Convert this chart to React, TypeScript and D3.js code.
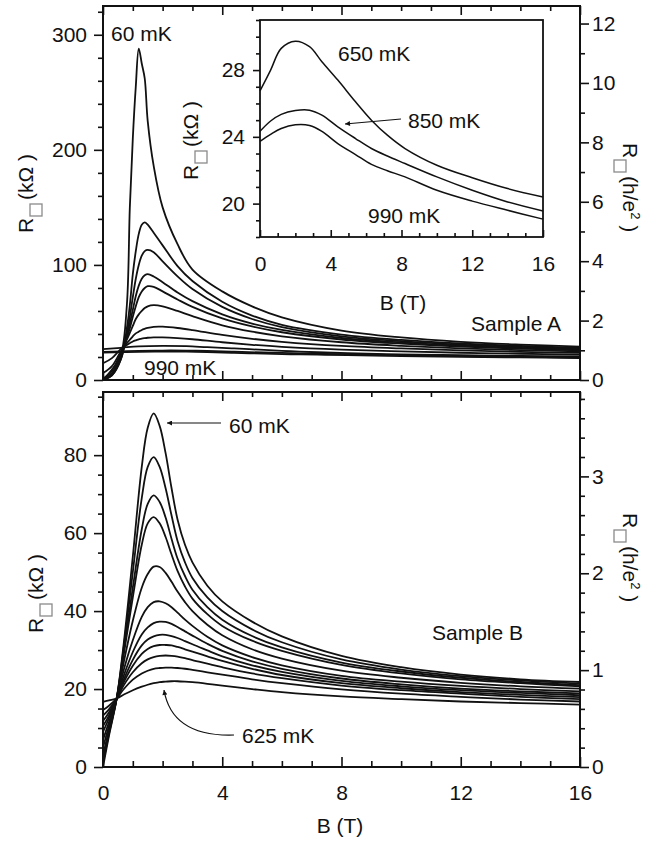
import React, { useEffect, useRef } from "react";
import * as d3 from "d3";

const FONT = "'Liberation Sans', Arial, Helvetica, sans-serif";

// conversion kOhm -> h/e^2 as drawn on the right axes
const HE2_A = 25.813;
const HE2_B = 24.85;

// ---- Sample A (top panel), R in kOhm vs B in T
const bFieldA = [0, 0.3, 0.6, 0.8, 0.9, 1.0, 1.1, 1.2, 1.3, 1.4, 1.5, 1.7, 2.0, 2.5, 3, 4, 5, 6, 8, 10, 12, 14, 16];
const rA_060 = [0, 9, 22, 65, 150, 210, 255, 288, 275, 262, 225, 186, 150, 118, 96, 77, 64, 54.5, 43, 37, 33.2, 30.8, 29];
const rA_2 = [0, 4, 18, 45, 65, 92, 112, 127, 135, 137, 135, 128, 117, 99, 86, 68, 56, 48, 39.5, 34.8, 31.7, 29.6, 28];
const rA_3 = [0, 4, 18, 40, 55, 72, 88, 100, 108, 112, 113, 111, 103, 90, 79, 63.5, 53, 46, 38, 33.8, 30.8, 28.8, 27.2];
const rA_4 = [0, 5, 20, 38, 49, 61, 73, 82, 88, 91, 92, 90, 85, 76, 68.5, 57, 49, 43.5, 36.5, 32.6, 29.8, 27.9, 26.4];
const rA_5 = [0.5, 6, 22, 37, 45, 55, 64, 72, 77, 80, 81.5, 81, 77, 70, 63.5, 53.5, 46.5, 41.5, 35.2, 31.6, 29, 27.2, 25.8];
const rA_6 = [1, 8, 24, 35, 41, 47, 53, 57, 60, 62.5, 64, 65, 64, 60, 55.5, 47.5, 42, 38, 32.8, 29.7, 27.5, 26, 24.8];
const rA_7 = [6, 12, 25, 32, 35, 38, 40.5, 42, 43.5, 44.5, 45.3, 46.2, 46.3, 45.2, 43.4, 39.2, 35.8, 33.2, 29.6, 27.4, 25.8, 24.5, 23.5];
const rA_8 = [14.5, 19, 27, 30.5, 32, 33.5, 34.5, 35.3, 36, 36.4, 36.7, 37, 37, 36.4, 35.4, 32.8, 30.6, 28.8, 26.4, 24.9, 23.7, 22.8, 22];

// high temperature traces of sample A (also shown in the inset)
const bFieldInset = [0, 0.6, 1.2, 2, 2.8, 3.5, 4.4, 5.4, 6.3, 7.2, 8.2, 10, 12, 14, 16];
const rA_650 = [26.75, 28.0, 29.3, 29.73, 29.4, 28.5, 27.4, 26.1, 25.0, 24.1, 23.3, 22.3, 21.55, 20.9, 20.4];
const rA_850 = [24.33, 24.95, 25.35, 25.58, 25.6, 25.3, 24.6, 23.9, 23.3, 22.85, 22.4, 21.6, 20.8, 20.1, 19.56];
const rA_990 = [23.73, 24.15, 24.5, 24.72, 24.68, 24.33, 23.6, 22.94, 22.35, 21.97, 21.6, 20.8, 20.15, 19.6, 19.07];

// ---- Sample B (bottom panel)
const bFieldB = [0, 0.2, 0.46, 0.7, 1.0, 1.3, 1.5, 1.7, 1.9, 2.1, 2.3, 2.5, 2.75, 3, 3.5, 4, 5, 6, 8, 10, 12, 14, 16];
const rB_060 = [0, 8, 17.6, 32, 54, 77, 87, 90.7, 87.5, 80.5, 71.5, 63.5, 57, 52.5, 46.5, 42.5, 37.3, 33.5, 28.5, 25.6, 23.7, 22.5, 21.8];
const rB_2 = [1, 8.5, 17.6, 31, 50, 69, 77, 79.5, 77, 71.5, 64.5, 58, 52.5, 48.5, 43.5, 40, 35.3, 32, 27.6, 25, 23.3, 22.2, 21.4];
const rB_3 = [2, 9, 17.6, 30, 46, 61, 67.5, 69.7, 68, 64, 58.5, 53.5, 49, 45.5, 41, 37.8, 33.6, 30.7, 26.8, 24.5, 22.9, 21.8, 21.0];
const rB_4 = [3, 9.5, 17.6, 29, 43.5, 57, 62.5, 64.1, 62.5, 59, 54.5, 50.3, 46.3, 43.2, 39.2, 36.2, 32.4, 29.8, 26.2, 24, 22.5, 21.5, 20.7];
const rB_5 = [5, 10.5, 17.6, 27, 37.5, 46, 49.5, 51.4, 51.3, 49.8, 47.5, 45, 42.3, 40, 36.5, 33.8, 30.2, 27.8, 24.7, 22.9, 21.6, 20.7, 20.1];
const rB_6 = [7, 11.5, 17.6, 25, 32.5, 38.5, 41, 42.3, 42.5, 42, 41, 39.6, 37.8, 36.2, 33.4, 31.2, 28.2, 26.1, 23.4, 21.9, 20.8, 20.0, 19.4];
const rB_7 = [9, 12.5, 17.6, 23.5, 29.5, 34, 35.8, 36.9, 37.3, 37.2, 36.7, 35.9, 34.8, 33.7, 31.6, 29.8, 27.1, 25.2, 22.7, 21.2, 20.1, 19.4, 18.9];
const rB_8 = [10.5, 13.2, 17.6, 22.5, 27.5, 31.2, 32.7, 33.5, 33.9, 33.9, 33.6, 33.1, 32.3, 31.5, 29.9, 28.4, 26.1, 24.4, 22.1, 20.7, 19.7, 19.0, 18.4];
const rB_9 = [11.8, 14, 17.6, 21.8, 26, 29, 30.3, 31, 31.3, 31.3, 31.2, 30.8, 30.2, 29.6, 28.4, 27.2, 25.2, 23.6, 21.5, 20.2, 19.2, 18.5, 17.9];
const rB_10 = [13.2, 14.8, 17.6, 21, 24.3, 26.6, 27.6, 28.2, 28.5, 28.6, 28.5, 28.3, 27.9, 27.4, 26.5, 25.6, 24.0, 22.8, 20.9, 19.7, 18.8, 18.0, 17.4];
const rB_11 = [14.6, 15.7, 17.6, 20, 22.4, 24, 24.7, 25.2, 25.4, 25.5, 25.5, 25.4, 25.2, 24.9, 24.3, 23.7, 22.5, 21.5, 19.9, 18.8, 18.0, 17.3, 16.8];
const rB_625 = [16.7, 17.1, 17.6, 18.6, 19.7, 20.6, 21.1, 21.5, 21.8, 21.9, 22.0, 22.0, 21.9, 21.75, 21.35, 20.9, 20.0, 19.2, 18.1, 17.4, 16.8, 16.4, 16.0];

const bTicks = [0, 4, 8, 12, 16];

const seriesA = [
  [bFieldA, rA_060], [bFieldA, rA_2], [bFieldA, rA_3], [bFieldA, rA_4], [bFieldA, rA_5],
  [bFieldA, rA_6], [bFieldA, rA_7], [bFieldA, rA_8],
  [bFieldInset, rA_650], [bFieldInset, rA_850], [bFieldInset, rA_990],
];
const seriesInset = [[bFieldInset, rA_650], [bFieldInset, rA_850], [bFieldInset, rA_990]];
const seriesB = [rB_060, rB_2, rB_3, rB_4, rB_5, rB_6, rB_7, rB_8, rB_9, rB_10, rB_11, rB_625].map(r => [bFieldB, r]);

// scales
const x = d3.scaleLinear().domain([0, 16]).range([103, 580]);
const yA = d3.scaleLinear().domain([0, 325]).range([380, 6]);
const yAr = d3.scaleLinear().domain([0, 325 / HE2_A]).range([380, 6]);
const yB = d3.scaleLinear().domain([0, 96.2]).range([767, 392]);
const yBr = d3.scaleLinear().domain([0, 96.2 / HE2_B]).range([767, 392]);
const xi = d3.scaleLinear().domain([0, 16]).range([260, 543]);
const yi = d3.scaleLinear().domain([18, 31]).range([237, 20]);

const minor = (from, to, step, major) =>
  d3.range(Math.round((to - from) / step) + 1).map(i => +(from + i * step).toFixed(3))
    .filter(v => !major.some(m => Math.abs(m - v) < 1e-6));

const mkLine = (xs, ys) => d3.line().x(d => xs(d[0])).y(d => ys(d[1])).curve(d3.curveCatmullRom.alpha(0.5));
const pts = (b, r) => b.map((v, i) => [v, r[i]]);

const App = () => {
  const ref = useRef(null);

  useEffect(() => {
    const svg = d3.select(ref.current).select("g.axes");
    svg.selectAll("*").remove();

    const put = (axis, tr, labels = false) => {
      const g = svg.append("g").attr("transform", tr).call(axis.tickFormat(d3.format("~g")));
      g.attr("font-family", FONT).attr("font-size", 21);
      g.select(".domain").remove();
      g.selectAll("line").attr("stroke", "#111").attr("stroke-width", 1.6);
      g.selectAll("text").attr("fill", "#111");
      if (!labels) g.selectAll("text").remove();
    };

    // top panel
    put(d3.axisLeft(yA).tickValues([0, 100, 200, 300]).tickSize(9).tickPadding(7), "translate(103,0)", true);
    put(d3.axisLeft(yA).tickValues(minor(0, 320, 20, [0, 100, 200, 300])).tickSize(5), "translate(103,0)");
    put(d3.axisRight(yAr).tickValues([0, 2, 4, 6, 8, 10, 12]).tickSize(9).tickPadding(3), "translate(580,0)", true);
    put(d3.axisRight(yAr).tickValues(minor(0, 12, 1, [0, 2, 4, 6, 8, 10, 12])).tickSize(5), "translate(580,0)");
    put(d3.axisTop(x).tickValues(bTicks).tickSize(-9), "translate(0,6)");
    put(d3.axisTop(x).tickValues(minor(0, 16, 1, bTicks)).tickSize(-5), "translate(0,6)");
    put(d3.axisBottom(x).tickValues(bTicks).tickSize(-9), "translate(0,380)");
    put(d3.axisBottom(x).tickValues(minor(0, 16, 1, bTicks)).tickSize(-5), "translate(0,380)");

    // bottom panel
    const yBmaj = [0, 20, 40, 60, 80];
    put(d3.axisLeft(yB).tickValues(yBmaj).tickSize(9).tickPadding(7), "translate(103,0)", true);
    put(d3.axisLeft(yB).tickValues(minor(0, 95, 5, yBmaj)).tickSize(5), "translate(103,0)");
    put(d3.axisRight(yBr).tickValues([0, 1, 2, 3]).tickSize(9).tickPadding(3), "translate(580,0)", true);
    put(d3.axisRight(yBr).tickValues(minor(0, 3.8, 0.2, [0, 1, 2, 3])).tickSize(5), "translate(580,0)");
    put(d3.axisTop(x).tickValues(bTicks).tickSize(-9), "translate(0,392)");
    put(d3.axisTop(x).tickValues(minor(0, 16, 1, bTicks)).tickSize(-5), "translate(0,392)");
    put(d3.axisBottom(x).tickValues(bTicks).tickSize(-10).tickPadding(18), "translate(0,767)", true);
    put(d3.axisBottom(x).tickValues(minor(0, 16, 1, bTicks)).tickSize(-6), "translate(0,767)");

    // inset
    put(d3.axisLeft(yi).tickValues([20, 24, 28]).tickSize(7).tickPadding(8), "translate(260,0)", true);
    put(d3.axisLeft(yi).tickValues(minor(18, 31, 1, [20, 24, 28])).tickSize(4), "translate(260,0)");
    put(d3.axisBottom(xi).tickValues(bTicks).tickSize(-7).tickPadding(19), "translate(0,237)", true);
    put(d3.axisBottom(xi).tickValues(minor(0, 16, 1, bTicks)).tickSize(-4), "translate(0,237)");
  }, []);

  const lineA = mkLine(x, yA);
  const lineB = mkLine(x, yB);
  const lineI = mkLine(xi, yi);

  const txt = { fontFamily: FONT, fontSize: 21, fill: "#111" };

  // rotated "R□ (unit)" label; (bx, by) = where the "R" begins
  const axisLabel = (bx, by, rot, unit) => (
    <g transform={`translate(${bx},${by}) rotate(${rot})`}>
      <text x={0} y={0} style={txt}>R</text>
      <rect x={17} y={-3} width={12} height={12} fill="none" stroke="#8a8a8a" strokeWidth={1.3} />
      <text x={33} y={0} style={txt}>{unit}</text>
    </g>
  );
  const he2 = <>(h/e<tspan dy={-8} fontSize={13}>2</tspan><tspan dy={8}> )</tspan></>;

  return (
    <svg ref={ref} width={660} height={841}
      style={{ position: "absolute", left: 0, top: 0, background: "#fff" }}>
      <defs>
        <marker id="ah" viewBox="0 0 10 10" refX="10" refY="5" markerWidth="9" markerHeight="5"
          markerUnits="userSpaceOnUse" orient="auto">
          <path d="M0,0 L10,5 L0,10 z" fill="#111" />
        </marker>
      </defs>

      {/* top panel curves */}
      <g fill="none" stroke="#111" strokeWidth={1.8}>
        {seriesA.map(([b, r], i) => <path key={i} d={lineA(pts(b, r))} />)}
      </g>
      {/* bottom panel curves */}
      <g fill="none" stroke="#111" strokeWidth={1.8}>
        {seriesB.map(([b, r], i) => <path key={i} d={lineB(pts(b, r))} />)}
      </g>

      {/* inset */}
      <rect x={260} y={20} width={283} height={217} fill="#fff" stroke="#111" strokeWidth={1.8} />
      <g fill="none" stroke="#111" strokeWidth={1.5}>
        {seriesInset.map(([b, r], i) => <path key={i} d={lineI(pts(b, r))} />)}
      </g>

      {/* frames */}
      <rect x={103} y={6} width={477} height={374} fill="none" stroke="#111" strokeWidth={2} />
      <rect x={103} y={392} width={477} height={375} fill="none" stroke="#111" strokeWidth={2} />

      <g className="axes" />

      {/* axis titles */}
      {axisLabel(33, 233, -90, "(kΩ )")}
      {axisLabel(43, 633, -90, "(kΩ )")}
      {axisLabel(198, 180, -90, "(kΩ )")}
      {axisLabel(623, 143, 90, he2)}
      {axisLabel(623, 513, 90, he2)}
      <text x={403} y={310} textAnchor="middle" style={txt}>B (T)</text>
      <text x={340} y={833} textAnchor="middle" style={txt}>B (T)</text>

      {/* annotations */}
      <text x={111} y={41} style={txt}>60 mK</text>
      <text x={144} y={375} style={txt}>990 mK</text>
      <text x={561} y={331} textAnchor="end" style={txt}>Sample A</text>
      <text x={338} y={61} style={txt}>650 mK</text>
      <text x={408} y={128} style={txt}>850 mK</text>
      <text x={368} y={223} style={txt}>990 mK</text>
      <line x1={401} y1={119} x2={345} y2={124} stroke="#111" strokeWidth={1.2} markerEnd="url(#ah)" />

      <text x={229} y={433} style={txt}>60 mK</text>
      <line x1={221} y1={423} x2={167} y2={423} stroke="#111" strokeWidth={1.2} markerEnd="url(#ah)" />
      <text x={242} y={743} style={txt}>625 mK</text>
      <path d="M234,735 Q172,737 164,690" fill="none" stroke="#111" strokeWidth={1.2} markerEnd="url(#ah)" />
      <text x={432} y={640} style={txt}>Sample B</text>
    </svg>
  );
};

export default App;
